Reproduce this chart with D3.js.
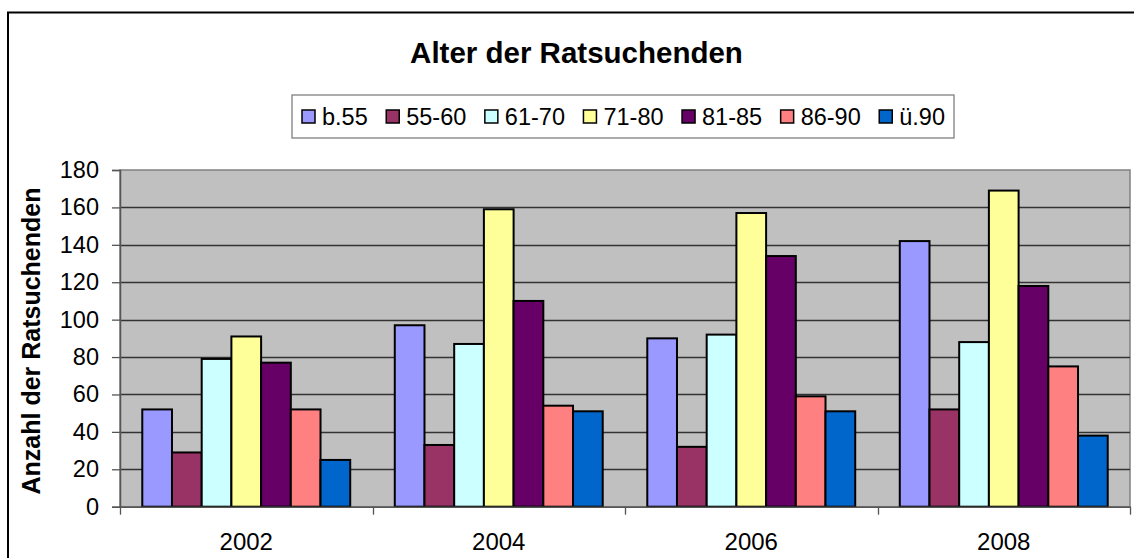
<!DOCTYPE html>
<html>
<head>
<meta charset="utf-8">
<script src="https://cdn.jsdelivr.net/npm/d3@7"></script>
<style>
  html, body { margin: 0; padding: 0; background: #fff; }
  svg { display: block; font-family: "Liberation Sans", Arial, sans-serif; }
</style>
</head>
<body>
<svg id="chart" width="1134" height="558"></svg>
<script>
// Jahre (Kategorien) und Altersgruppen (Reihen)
const years = ["2002", "2004", "2006", "2008"];
const ageGroups = ["b.55", "55-60", "61-70", "71-80", "81-85", "86-90", "ü.90"];
const groupColors = ["#9999FF", "#993366", "#CCFFFF", "#FFFF99", "#660066", "#FF8080", "#0066CC"];

// Anzahl der Ratsuchenden je Altersgruppe, Reihenfolge wie years
const valuesB55   = [52, 97, 90, 142];
const values55_60 = [29, 33, 32, 52];
const values61_70 = [79, 87, 92, 88];
const values71_80 = [91, 159, 157, 169];
const values81_85 = [77, 110, 134, 118];
const values86_90 = [52, 54, 59, 75];
const valuesU90   = [25, 51, 51, 38];
const seriesValues = [valuesB55, values55_60, values61_70, values71_80, values81_85, values86_90, valuesU90];

const yTicks = [0, 20, 40, 60, 80, 100, 120, 140, 160, 180];

const svg = d3.select("#chart");

// Rahmen des Diagramms
svg.append("rect")
  .attr("x", 8).attr("y", 12.5)
  .attr("width", 1140).attr("height", 560)
  .attr("fill", "#fff").attr("stroke", "#000").attr("stroke-width", 2);

// Zeichenfläche
const plot = { left: 120, right: 1130, top: 170, bottom: 506.7 };

const x0 = d3.scaleBand().domain(years).range([plot.left, plot.right]).paddingInner(0).paddingOuter(0);
// Lücke zwischen Gruppen: 150 % einer Säulenbreite
const barW = x0.bandwidth() / (ageGroups.length + 1.5);
const x1 = d3.scaleBand().domain(ageGroups)
  .range([0.75 * barW, 0.75 * barW + barW * ageGroups.length]).padding(0);
const y = d3.scaleLinear().domain([0, 180]).range([plot.bottom, plot.top]);

svg.append("rect")
  .attr("x", plot.left).attr("y", plot.top)
  .attr("width", plot.right - plot.left).attr("height", plot.bottom - plot.top)
  .attr("fill", "#C0C0C0").attr("stroke", "#808080").attr("stroke-width", 1.5);

// Gitternetzlinien
svg.append("g").selectAll("line")
  .data(yTicks.filter(d => d > 0 && d < 180))
  .join("line")
  .attr("x1", plot.left).attr("x2", plot.right)
  .attr("y1", d => Math.round(y(d)) + 0.5).attr("y2", d => Math.round(y(d)) + 0.5)
  .attr("stroke", "#333").attr("stroke-width", 1.3);

// Säulen
const groups = svg.append("g").selectAll("g")
  .data(years)
  .join("g")
  .attr("transform", d => `translate(${x0(d)},0)`);

groups.selectAll("rect")
  .data((yr, i) => ageGroups.map((g, k) => ({ group: g, k, value: seriesValues[k][i] })))
  .join("rect")
  .attr("x", d => x1(d.group))
  .attr("y", d => y(d.value))
  .attr("width", x1.bandwidth())
  .attr("height", d => y(0) - y(d.value))
  .attr("fill", d => groupColors[d.k])
  .attr("stroke", "#000")
  .attr("stroke-width", 2);

// Y-Achse
const yAxis = d3.axisLeft(y).tickValues(yTicks).tickSize(8).tickPadding(13);
const gy = svg.append("g").attr("transform", `translate(${plot.left},0)`).call(yAxis);
gy.select(".domain").attr("stroke", "#555").attr("stroke-width", 1.5);
gy.selectAll(".tick line").attr("stroke", "#555").attr("stroke-width", 1.3);
gy.selectAll(".tick text")
  .attr("font-size", 23.5).attr("fill", "#000")
  .attr("font-family", "'Liberation Sans', Arial, sans-serif");

// X-Achse
const xAxis = d3.axisBottom(x0).tickSize(0).tickPadding(26);
const gx = svg.append("g").attr("transform", `translate(0,${plot.bottom})`).call(xAxis);
gx.select(".domain").attr("stroke", "#555").attr("stroke-width", 1.5);
gx.selectAll(".tick text")
  .attr("font-size", 24).attr("fill", "#000")
  .attr("font-family", "'Liberation Sans', Arial, sans-serif");

// Trennstriche zwischen den Jahren
const boundaries = years.map(d => x0(d)).concat([x0.range()[1]]);
svg.append("g").selectAll("line")
  .data(boundaries)
  .join("line")
  .attr("x1", d => Math.round(d) + 0.5).attr("x2", d => Math.round(d) + 0.5)
  .attr("y1", plot.bottom).attr("y2", plot.bottom + 8)
  .attr("stroke", "#555").attr("stroke-width", 1.3);

// Titel
svg.append("text")
  .attr("x", 576.5).attr("y", 63)
  .attr("text-anchor", "middle")
  .attr("font-size", 29.5).attr("font-weight", "bold")
  .text("Alter der Ratsuchenden");

// Achsentitel
svg.append("text")
  .attr("transform", `translate(40,341) rotate(-90)`)
  .attr("text-anchor", "middle")
  .attr("font-size", 25).attr("font-weight", "bold")
  .text("Anzahl der Ratsuchenden");

// Legende: Einträge gleichmäßig zwischen den Rändern verteilt
const legend = svg.append("g");
legend.append("rect")
  .attr("x", 292).attr("y", 95).attr("width", 662).attr("height", 43)
  .attr("fill", "#fff").attr("stroke", "#808080").attr("stroke-width", 1.3);

const legendStart = 302, legendEnd = 945, swatchGap = 20;
const items = ageGroups.map((g, k) => {
  const t = legend.append("text")
    .attr("y", 124.5)
    .attr("font-size", 23.5)
    .text(g);
  return { k, t, w: t.node().getComputedTextLength() };
});
const used = d3.sum(items, d => d.w + swatchGap);
const itemGap = (legendEnd - legendStart - used) / (items.length - 1);
let cx = legendStart;
items.forEach(d => {
  legend.append("rect")
    .attr("x", cx).attr("y", 110).attr("width", 13).attr("height", 13)
    .attr("fill", groupColors[d.k]).attr("stroke", "#000").attr("stroke-width", 1.5);
  d.t.attr("x", cx + swatchGap);
  cx += swatchGap + d.w + itemGap;
});
</script>
</body>
</html>
